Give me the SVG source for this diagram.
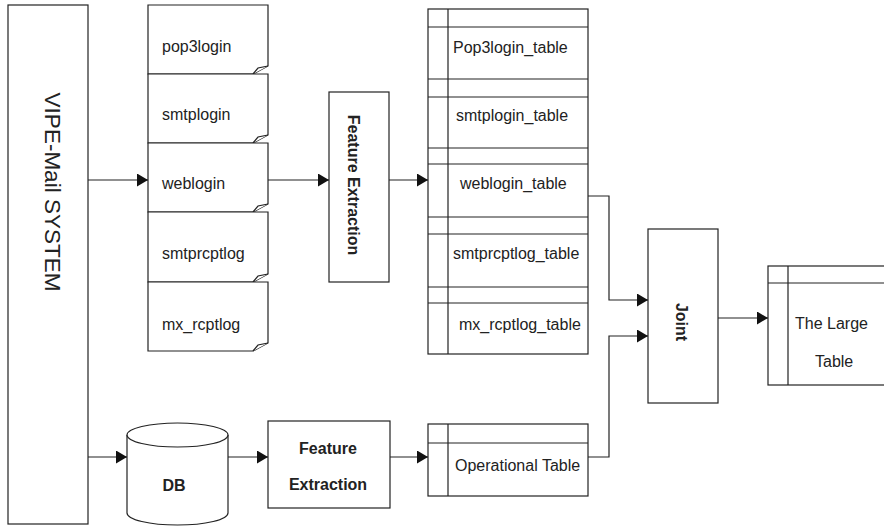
<svg xmlns="http://www.w3.org/2000/svg" width="884" height="527" viewBox="0 0 884 527">
<style>
.s{fill:#fff;stroke:#222;stroke-width:1.2}
.ln{fill:none;stroke:#222;stroke-width:1.2}
.t{font-family:"Liberation Sans",Arial,sans-serif;font-size:16px;fill:#222}
.b{font-weight:bold}
</style>
<defs>
<marker id="ah" markerWidth="12" markerHeight="13" refX="11" refY="6.5" orient="auto" markerUnits="userSpaceOnUse">
<path d="M0,0 L11,6.5 L0,13 Z" fill="#111"/>
</marker>
</defs>
<rect width="884" height="527" fill="#fff"/>
<g id="vipe">
<rect class="s" x="8" y="5" width="80" height="519"/>
<text class="t" style="font-size:22.5px" text-anchor="middle" transform="translate(45,192) rotate(90)">VIPE-Mail SYSTEM</text>
</g>
<g id="doc-pop3login">
<path class="s" d="M148,5 H268 V66 L253,74 H148 Z"/>
<path class="s" d="M253,74 L258,68 L268,66"/>
<text class="t" x="162" y="52">pop3login</text>
</g>
<g id="doc-smtplogin">
<path class="s" d="M148,74 H268 V135 L253,143 H148 Z"/>
<path class="s" d="M253,143 L258,137 L268,135"/>
<text class="t" x="162" y="120">smtplogin</text>
</g>
<g id="doc-weblogin">
<path class="s" d="M148,143 H268 V204 L253,212 H148 Z"/>
<path class="s" d="M253,212 L258,206 L268,204"/>
<text class="t" x="162" y="189">weblogin</text>
</g>
<g id="doc-smtprcptlog">
<path class="s" d="M148,212 H268 V274 L253,282 H148 Z"/>
<path class="s" d="M253,282 L258,276 L268,274"/>
<text class="t" x="162" y="259">smtprcptlog</text>
</g>
<g id="doc-mx_rcptlog">
<path class="s" d="M148,282 H268 V343 L253,351 H148 Z"/>
<path class="s" d="M253,351 L258,345 L268,343"/>
<text class="t" x="162" y="330">mx_rcptlog</text>
</g>
<g id="feature-extraction-1">
<rect class="s" x="329" y="92" width="60" height="190"/>
<text class="t b" text-anchor="middle" transform="translate(348,185) rotate(90)">Feature Extraction</text>
</g>
<g id="tables">
<rect class="s" x="428" y="9" width="160" height="345"/>
<path class="ln" d="M448,9 V354 M428,27 H588 M428,79 H588 M428,97 H588 M428,148 H588 M428,164 H588 M428,217 H588 M428,234 H588 M428,287 H588 M428,303 H588"/>
<text class="t" x="453" y="53">Pop3login_table</text>
<text class="t" x="456" y="121">smtplogin_table</text>
<text class="t" x="460" y="189">weblogin_table</text>
<text class="t" x="453" y="259">smtprcptlog_table</text>
<text class="t" x="459" y="330">mx_rcptlog_table</text>
</g>
<g id="joint">
<rect class="s" x="648" y="229" width="70" height="174"/>
<text class="t b" text-anchor="middle" transform="translate(676,322) rotate(90)">Joint</text>
</g>
<g id="large-table">
<rect class="s" x="768" y="266" width="130" height="119"/>
<path class="ln" d="M788,266 V385 M768,283 H898"/>
<text class="t" x="795" y="329">The Large</text>
<text class="t" x="815" y="367">Table</text>
</g>
<g id="db">
<path class="s" d="M127,435 V513 A50.5,12 0 0 0 228,513 V435"/>
<ellipse class="s" cx="177.5" cy="435" rx="50.5" ry="12"/>
<text class="t b" x="174" y="491" text-anchor="middle">DB</text>
</g>
<g id="feature-extraction-2">
<rect class="s" x="268" y="421" width="122" height="87"/>
<text class="t b" x="328" y="454" text-anchor="middle">Feature</text>
<text class="t b" x="328" y="490" text-anchor="middle">Extraction</text>
</g>
<g id="operational-table">
<rect class="s" x="428" y="424" width="160" height="72"/>
<path class="ln" d="M448,424 V496 M428,443 H588"/>
<text class="t" x="455" y="471">Operational Table</text>
</g>
<g id="connectors">
<path class="ln" d="M88,180 H148" marker-end="url(#ah)"/>
<path class="ln" d="M268,180 H329" marker-end="url(#ah)"/>
<path class="ln" d="M389,180 H428" marker-end="url(#ah)"/>
<path class="ln" d="M588,196 H609 V300 H648" marker-end="url(#ah)"/>
<path class="ln" d="M588,457 H609 V336 H648" marker-end="url(#ah)"/>
<path class="ln" d="M718,318 H768" marker-end="url(#ah)"/>
<path class="ln" d="M88,457 H127" marker-end="url(#ah)"/>
<path class="ln" d="M228,457 H268" marker-end="url(#ah)"/>
<path class="ln" d="M390,457 H428" marker-end="url(#ah)"/>
</g>
</svg>
